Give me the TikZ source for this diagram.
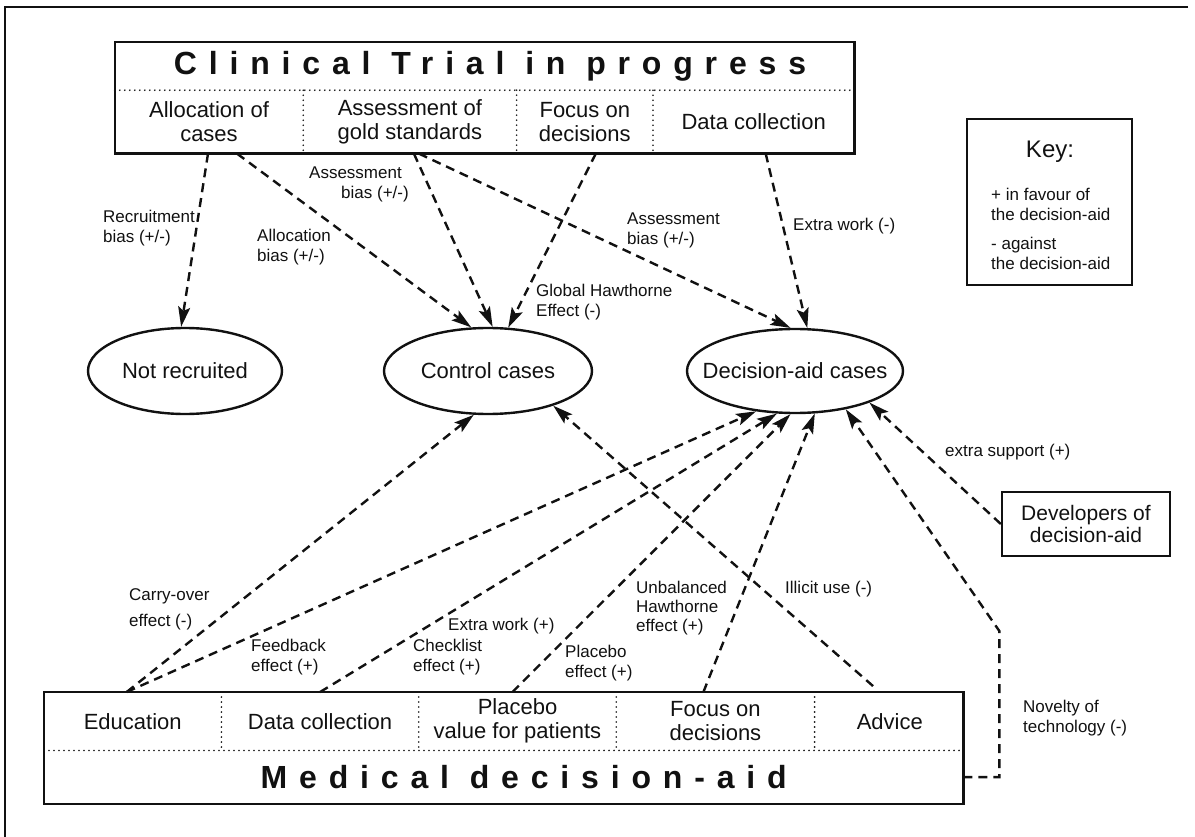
\documentclass[tikz,border=0pt]{standalone}
\usepackage{fontspec}
\setmainfont{Liberation Sans}
\newfontfamily\spacedfont[LetterSpace=37]{Liberation Sans}
\usetikzlibrary{positioning, shapes.geometric, arrows.meta}
\usepackage{xcolor}
\definecolor{inkblack}{HTML}{111111}
\newcommand{\lblfont}{\fontsize{17}{20}\selectfont}
\newcommand{\cellfont}{\fontsize{22}{24}\selectfont}
\newcommand{\headfont}{\spacedfont\bfseries\fontsize{32}{36}\selectfont}

\begin{document}
\begin{tikzpicture}[x=1pt, y=-1pt, color=inkblack,
    cell/.style={align=center, inner sep=0pt, font=\cellfont},
    headcell/.style={inner sep=0pt, font=\headfont},
    boxline/.style={line width=2.4pt},
    sep/.style={line width=1.8pt, dash pattern=on 0pt off 5pt, line cap=round},
    oval/.style={ellipse, draw, line width=2.4pt, inner sep=0pt, font=\cellfont},
    lbl/.style={align=left, anchor=west, inner sep=0pt, font=\lblfont},
    dasharrow/.style={line width=2.4pt, dash pattern=on 9pt off 6pt,
                      -{Stealth[length=20pt, width=12pt, inset=4pt]}}]
    \useasboundingbox (0,0) rectangle (1195,837);
    \draw[line width=1.2pt] (1188,7) -- (5,7) -- (5,837);

    % trial box
    \node[headcell, minimum width=738pt, minimum height=48pt] (trial) at (484,66) {\hspace*{12pt}Clinical Trial in progress};
    \node[cell, minimum width=188pt, minimum height=63pt, anchor=north west] (alloc) at (trial.south west) {Allocation of\\cases};
    \node[cell, minimum width=213pt, minimum height=63pt, right=0pt of alloc] (assess) {Assessment of\\gold standards};
    \node[cell, minimum width=136pt, minimum height=63pt, right=0pt of assess] (focus) {Focus on\\decisions};
    \node[cell, minimum width=201pt, minimum height=63pt, right=0pt of focus] (datac) {Data collection};
    \draw[boxline] (trial.north west) rectangle (datac.south east);
    \draw[sep] (trial.south west) -- (trial.south east);
    \foreach \c in {alloc, assess, focus}
        \draw[sep] (\c.north east) -- (\c.south east);

    % decision-aid box
    \node[cell, minimum width=177pt, minimum height=58pt, anchor=north west] (edu) at (44,692) {Education};
    \node[cell, minimum width=197pt, minimum height=58pt, right=0pt of edu] (dcol) {Data collection};
    \node[cell, minimum width=197pt, minimum height=58pt, right=0pt of dcol] (plac) {Placebo\\value for patients};
    \node[cell, minimum width=198pt, minimum height=58pt, right=0pt of plac] (fdec) {Focus on\\decisions};
    \node[cell, minimum width=150pt, minimum height=58pt, right=0pt of fdec] (adv) {Advice};
    \node[headcell, minimum width=919pt, minimum height=53pt, anchor=north west] (mda) at (edu.south west) {\hspace*{40pt}Medical decision-aid};
    \draw[boxline] (edu.north west) rectangle (mda.south east);
    \draw[sep] (mda.north west) -- (mda.north east);
    \foreach \c in {edu, dcol, plac, fdec}
        \draw[sep] (\c.north east) -- (\c.south east);

    % case groups
    \node[oval, minimum width=194pt, minimum height=86pt] (nrec) at (185,371) {\makebox[0pt]{Not recruited}};
    \node[oval, minimum width=208pt, minimum height=86pt] (ctrl) at (488,371) {\makebox[0pt]{Control cases}};
    \node[oval, minimum width=216pt, minimum height=84pt] (dec) at (795,371) {\makebox[0pt]{Decision-aid cases}};

    % key and developers
    \node[draw, line width=1.6pt, minimum width=165pt, minimum height=166pt] (key) at (1049.5,202) {};
    \node[inner sep=0pt, font=\fontsize{24}{26}\selectfont] (keyt) at (1050,152) {Key:};
    \node[lbl] (kplus) at (991,204) {+ in favour of\\the decision-aid};
    \node[lbl] (kminus) at (991,253) {- against\\the decision-aid};
    \node[draw, line width=2.4pt, minimum width=168pt, minimum height=64pt, align=center,
          inner sep=0pt, font=\fontsize{21}{22}\selectfont] (dev) at (1086,524) {Developers of\\decision-aid};

    % arrows from the trial
    \draw[dasharrow] ([xshift=-1pt]alloc.south) -- (nrec.95);
    \draw[dasharrow] ([xshift=28pt]alloc.south) -- (ctrl.111);
    \draw[dasharrow] ([xshift=4pt]assess.south) -- (ctrl.84);
    \draw[dasharrow] ([xshift=9pt]assess.south) -- (dec.96);
    \draw[dasharrow] ([xshift=11pt]focus.south) -- (ctrl.65);
    \draw[dasharrow] ([xshift=12pt]datac.south) -- (dec.74);

    % arrows from the decision-aid
    \draw[dasharrow] ([xshift=-6pt]edu.north) -- (ctrl.252);
    \draw[dasharrow] ([xshift=-6pt]edu.north) -- (dec.226);
    \draw[dasharrow] (dcol.north) -- (dec.247);
    \draw[dasharrow] ([xshift=-5pt]plac.north) -- (dec.264);
    \draw[dasharrow] ([xshift=-12pt]fdec.north) -- (dec.295);
    \draw[dasharrow, shorten <=9pt] ([xshift=-10pt]adv.north) -- (ctrl.332);
    \draw[dasharrow] (mda.east) -- ++(36,0) -- ++(0,-146) -- (dec.323);
    \draw[dasharrow] (dev.west) -- (dec.337);

    % labels
    \node[lbl] (rbias) at (103,228) {Recruitment\\bias (+/-)};
    \node[lbl] (abias) at (257,247) {Allocation\\bias (+/-)};
    \node[lbl] (sbias) at (309,184) {Assessment\\\hspace*{32pt}bias (+/-)};
    \node[lbl] (ghaw) at (536,302) {Global Hawthorne\\Effect (-)};
    \node[lbl] (sbias2) at (627,230) {Assessment\\bias (+/-)};
    \node[lbl] (xwork) at (793,226) {Extra work (-)};
    \node[lbl] (xsup) at (945,452) {extra support (+)};
    \node[lbl, font=\fontsize{17}{26}\selectfont] (carry) at (129,609) {Carry-over\\effect (-)};
    \node[lbl] (feed) at (251,657) {Feedback\\effect (+)};
    \node[lbl] (check) at (413,657) {Checklist\\effect (+)};
    \node[lbl] (xwork2) at (448,626) {Extra work (+)};
    \node[lbl] (pleff) at (565,663) {Placebo\\effect (+)};
    \node[lbl, font=\fontsize{17}{19}\selectfont] (uhaw) at (636,608) {Unbalanced\\Hawthorne\\effect (+)};
    \node[lbl] (illic) at (785,589) {Illicit use (-)};
    \node[lbl] (novel) at (1023,718) {Novelty of\\technology (-)};
\end{tikzpicture}
\end{document}
